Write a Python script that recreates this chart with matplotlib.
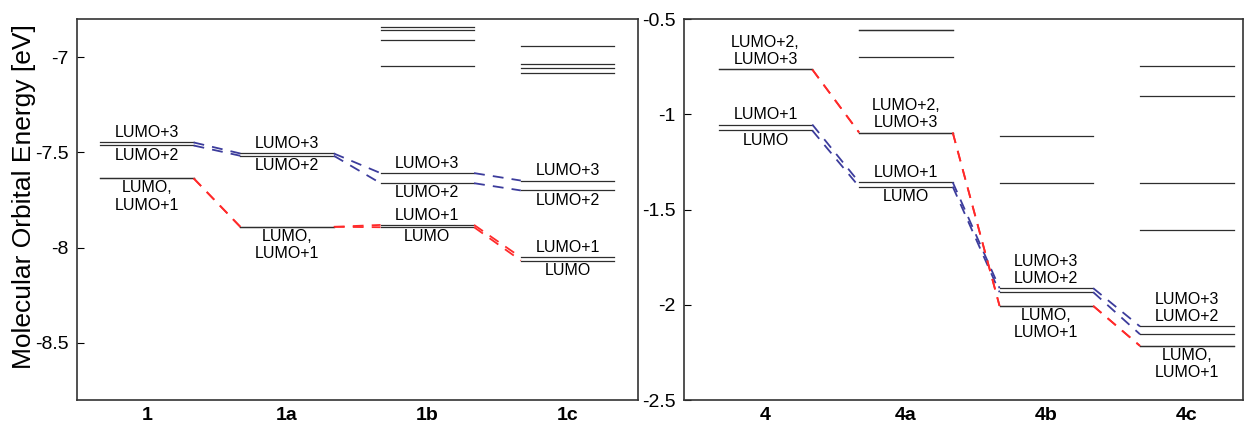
import numpy as np
import matplotlib
matplotlib.use('Agg')
import matplotlib.pyplot as plt

plt.rcParams['font.family'] = ['Liberation Sans', 'DejaVu Sans']
plt.rcParams['axes.unicode_minus'] = False

# ---- data (eV) -------------------------------------------------------
left_cats = ['1', '1a', '1b', '1c']
# red pair: LUMO, LUMO+1 ; blue pair: LUMO+2, LUMO+3
left_red = [[-7.636, -7.891, -7.893, -8.068],
            [-7.636, -7.891, -7.881, -8.051]]
left_blue = [[-7.464, -7.518, -7.662, -7.700],
             [-7.448, -7.506, -7.609, -7.648]]
left_higher = [[], [], [-6.842, -6.856, -6.911, -7.049],
               [-6.941, -7.035, -7.058, -7.081]]

right_cats = ['4', '4a', '4b', '4c']
right_red = [[-0.765, -1.096, -2.006, -2.216],
             [-0.765, -1.096, -2.006, -2.216]]
right_blue = [[-1.085, -1.380, -1.934, -2.155],
              [-1.054, -1.357, -1.913, -2.114]]
right_higher = [[], [-0.556, -0.560, -0.702], [-1.113, -1.361],
                [-0.747, -0.903, -1.361, -1.606]]

# labels: (text, which level, above/below)
lab_a = [('LUMO+3', 'b1', 'up'), ('LUMO+2', 'b0', 'down'), ('LUMO,\nLUMO+1', 'r0', 'down')]
lab_b = [('LUMO+3', 'b1', 'up'), ('LUMO+2', 'b0', 'down'), ('LUMO+1', 'r1', 'up'), ('LUMO', 'r0', 'down')]
left_labels = [lab_a, lab_a, lab_b, lab_b]
lab_c = [('LUMO+2,\nLUMO+3', 'r0', 'up'), ('LUMO+1', 'b1', 'up'), ('LUMO', 'b0', 'down')]
lab_d = [('LUMO+3\nLUMO+2', 'b1', 'up'), ('LUMO,\nLUMO+1', 'r0', 'down')]
right_labels = [lab_c, lab_c, lab_d, lab_d]

level_c = '#2e2e2e'
red_c = '#ff2a2a'
blue_c = '#3c3c9c'
hw = 1 / 3.


def draw_panel(ax, cats, red, blue, higher, labels):
    xs = np.arange(1, len(cats) + 1)
    for series, col in [(blue, blue_c), (red, red_c)]:
        for e in series:
            for i, x in enumerate(xs):
                ax.plot([x - hw, x + hw], [e[i], e[i]], color=level_c, lw=0.9)
            for i in range(len(xs) - 1):
                ax.plot([xs[i] + hw, xs[i + 1] - hw], [e[i], e[i + 1]],
                        color=col, lw=1.3, ls=(0, (6, 4.5)))
    for x, hs in zip(xs, higher):
        for e in hs:
            ax.plot([x - hw, x + hw], [e, e], color=level_c, lw=0.9)
    for i, (x, labs) in enumerate(zip(xs, labels)):
        ref = {'r0': red[0][i], 'r1': red[1][i], 'b0': blue[0][i], 'b1': blue[1][i]}
        for text, key, pos in labs:
            up = pos == 'up'
            ax.annotate(text, (x, ref[key]), xytext=(0, 1.5 if up else -1.5),
                        textcoords='offset points', ha='center',
                        va='bottom' if up else 'top', fontsize=11.5)
    ax.set_xticks(xs)
    ax.set_xticklabels(cats, fontweight='bold', fontsize=14)
    ax.tick_params(axis='x', length=0, pad=5)
    ax.tick_params(axis='y', direction='in', length=5, labelsize=14, pad=6)
    for s in ax.spines.values():
        s.set_color('#333333')
        s.set_linewidth(1.2)


fig = plt.figure(figsize=(12.44, 4.23), dpi=100)
ax1 = fig.add_axes([76.7 / 1244, 23 / 423, 561 / 1244, 381 / 423])
ax2 = fig.add_axes([684 / 1244, 23 / 423, 559 / 1244, 381 / 423])

draw_panel(ax1, left_cats, left_red, left_blue, left_higher, left_labels)
ax1.set_xlim(0.5, 4.5)
ax1.set_ylim(-8.8, -6.8)
ax1.set_yticks([-8.5, -8, -7.5, -7])
ax1.set_yticklabels(['-8.5', '-8', '-7.5', '-7'])
ax1.set_ylabel('Molecular Orbital Energy [eV]', fontsize=19)
ax1.yaxis.set_label_coords(-0.072, 0.535)

draw_panel(ax2, right_cats, right_red, right_blue, right_higher, right_labels)
ax2.set_xlim(0.42, 4.40)
ax2.set_ylim(-2.5, -0.5)
ax2.set_yticks([-2.5, -2, -1.5, -1, -0.5])
ax2.set_yticklabels(['-2.5', '-2', '-1.5', '-1', '-0.5'])

fig.savefig('out.png', dpi=100)
